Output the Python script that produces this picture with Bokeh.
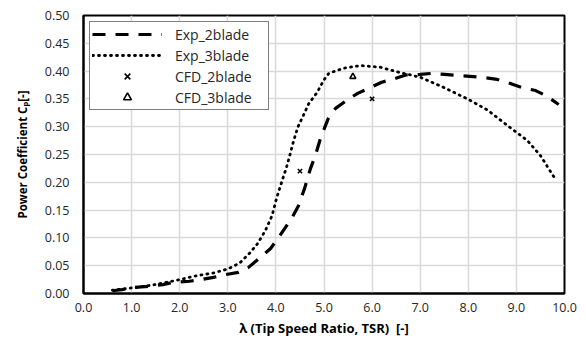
from bokeh.plotting import figure
from bokeh.models import Range1d, FixedTicker, NumeralTickFormatter, Legend, LegendItem
from bokeh.embed import file_html
from bokeh.resources import INLINE

exp2_tsr = [0.6, 0.8, 1.05, 1.35, 1.65, 1.87, 2.2, 2.45, 2.7, 2.95, 3.22, 3.43,
            3.68, 3.89, 4.05, 4.2, 4.34, 4.47, 4.6, 4.72, 4.82, 4.93, 5.09, 5.24,
            5.5, 5.7, 5.95, 6.2, 6.45, 6.7, 7.0, 7.25, 7.5, 7.8, 8.1, 8.36, 8.6,
            8.9, 9.13, 9.4, 9.63, 9.88]
exp2_cp = [0.005, 0.007, 0.011, 0.013, 0.016, 0.020, 0.022, 0.025, 0.029, 0.034,
           0.038, 0.047, 0.065, 0.081, 0.100, 0.119, 0.137, 0.158, 0.190, 0.225,
           0.248, 0.280, 0.315, 0.333, 0.349, 0.360, 0.370, 0.380, 0.386, 0.393,
           0.394, 0.396, 0.394, 0.392, 0.390, 0.388, 0.385, 0.377, 0.370, 0.365,
           0.355, 0.340]

exp3_tsr = [0.6, 0.9, 1.2, 1.55, 2.0, 2.35, 2.7, 3.0, 3.25, 3.47, 3.62, 3.78, 3.92,
            4.02, 4.13, 4.22, 4.3, 4.37, 4.46, 4.57, 4.68, 4.86, 4.99, 5.1, 5.4,
            5.76, 6.17, 6.55, 7.0, 7.48, 7.98, 8.4, 8.8, 9.23, 9.5, 9.8]
exp3_cp = [0.006, 0.009, 0.012, 0.017, 0.025, 0.032, 0.037, 0.044, 0.055, 0.074,
           0.090, 0.113, 0.140, 0.173, 0.203, 0.227, 0.252, 0.275, 0.300, 0.320,
           0.341, 0.362, 0.383, 0.396, 0.405, 0.410, 0.407, 0.398, 0.389, 0.371,
           0.350, 0.330, 0.303, 0.275, 0.248, 0.207]

# CFD points
cfd2_tsr = [4.5, 6.0]
cfd2_cp = [0.22, 0.35]
cfd3_tsr = [5.6]
cfd3_cp = [0.39]

x_ticks = [0, 1, 2, 3, 4, 5, 6, 7, 8, 9, 10]
y_ticks = [0.0, 0.05, 0.10, 0.15, 0.20, 0.25, 0.30, 0.35, 0.40, 0.45, 0.50]

FONT = "Open Sans"

p = figure(width=586, height=341, output_backend="svg", toolbar_location=None,
           x_range=Range1d(0, 10), y_range=Range1d(0, 0.5),
           min_border_left=83, min_border_right=22, min_border_top=15,
           min_border_bottom=48)

p.background_fill_color = "white"
p.border_fill_color = "white"
p.outline_line_color = "black"
p.outline_line_width = 2

for ax in (p.xaxis[0], p.yaxis[0]):
    ax.axis_line_color = "black"
    ax.axis_line_width = 2
    ax.major_tick_line_color = None
    ax.minor_tick_line_color = None
    ax.major_tick_out = 0
    ax.major_tick_in = 0
    ax.major_label_text_font = FONT
    ax.major_label_text_font_size = "12.5px"
    ax.major_label_text_color = "#262626"
    ax.axis_label_text_font = FONT
    ax.axis_label_text_font_style = "bold"
    ax.axis_label_text_color = "black"

p.xaxis.axis_label_text_font_size = "13px"
p.yaxis.axis_label_text_font_size = "11.5px"
p.xaxis.ticker = FixedTicker(ticks=x_ticks)
p.yaxis.ticker = FixedTicker(ticks=y_ticks)
p.xaxis.formatter = NumeralTickFormatter(format="0.0")
p.yaxis.formatter = NumeralTickFormatter(format="0.00")
p.xaxis.axis_label = "λ (Tip Speed Ratio, TSR)\u00a0\u00a0[-]"
p.yaxis.axis_label = "Power Coefficient Cₚ[-]"
p.xaxis.major_label_standoff = 9
p.yaxis.major_label_standoff = 14
p.xaxis.axis_label_standoff = 4
p.yaxis.axis_label_standoff = 12

p.xgrid.grid_line_color = "#d9d9d9"
p.ygrid.grid_line_color = "#d9d9d9"
p.xgrid.grid_line_width = 1.5
p.ygrid.grid_line_width = 1.5

r_exp2 = p.line(exp2_tsr, exp2_cp, line_color="black", line_width=3.2,
                line_dash="13 10", line_cap="butt", line_join="round")
r_exp3 = p.line(exp3_tsr, exp3_cp, line_color="black", line_width=2.8,
                line_dash="1 5", line_cap="round", line_join="round")
r_cfd2 = p.scatter(cfd2_tsr, cfd2_cp, marker="x", size=6,
                   line_color="black", line_width=1.6)
r_cfd3 = p.scatter(cfd3_tsr, cfd3_cp, marker="triangle", size=6,
                   line_color="black", line_width=1.6, fill_color=None)

legend = Legend(items=[
    LegendItem(label="Exp_2blade", renderers=[r_exp2]),
    LegendItem(label="Exp_3blade", renderers=[r_exp3]),
    LegendItem(label="CFD_2blade", renderers=[r_cfd2]),
    LegendItem(label="CFD_3blade", renderers=[r_cfd3]),
], location="top_left")
legend.margin = 6
legend.padding = 2
legend.spacing = 1
legend.glyph_width = 70
legend.glyph_height = 20
legend.label_height = 20
legend.label_width = 91
legend.label_standoff = 13
legend.label_text_font = FONT
legend.label_text_font_size = "14px"
legend.label_text_color = "#262626"
legend.border_line_color = "black"
legend.border_line_width = 1.5
legend.background_fill_color = "white"
legend.background_fill_alpha = 1
p.add_layout(legend)

open("out.html", "w").write(file_html(p, INLINE))
